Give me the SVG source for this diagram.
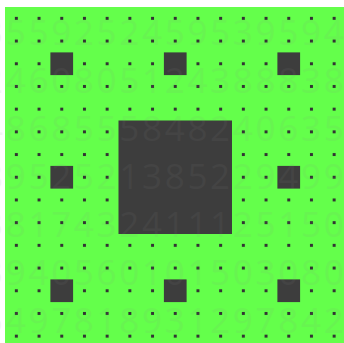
<svg xmlns="http://www.w3.org/2000/svg" width="344" height="343" viewBox="0 0 344 343">
<defs>
<pattern id="dots" x="5" y="7" width="22.7" height="22.7" patternUnits="userSpaceOnUse">
<rect x="9.85" y="9.85" width="3" height="3" fill="#333333"/>
</pattern>
<style>
.hole{fill:#3d3d3d}
.digits{font-family:"Open Sans","DejaVu Sans",sans-serif;font-size:35px;letter-spacing:2.7px;fill:#8a8a8a;opacity:0.09}
</style>
</defs>
<rect width="344" height="343" fill="#ffffff"/>
<g id="carpet">
<rect x="5" y="7" width="340.5" height="340.5" fill="#64ff4b"/>
<rect x="5" y="7" width="340.5" height="340.5" fill="url(#dots)"/>
<rect class="hole" x="118.5" y="120.5" width="113.5" height="113.5"/>
<rect class="hole" x="50.4" y="52.4" width="22.7" height="22.7"/>
<rect class="hole" x="163.9" y="52.4" width="22.7" height="22.7"/>
<rect class="hole" x="277.4" y="52.4" width="22.7" height="22.7"/>
<rect class="hole" x="50.4" y="165.9" width="22.7" height="22.7"/>
<rect class="hole" x="277.4" y="165.9" width="22.7" height="22.7"/>
<rect class="hole" x="50.4" y="279.4" width="22.7" height="22.7"/>
<rect class="hole" x="163.9" y="279.4" width="22.7" height="22.7"/>
<rect class="hole" x="277.4" y="279.4" width="22.7" height="22.7"/>
</g>
<g id="digits" class="digits">
<text x="-17" y="45">3559252459539594</text>
<text x="-17" y="93">2460805124388838</text>
<text x="-17" y="141">4868555848240635</text>
<text x="-17" y="189">8952521385229499</text>
<text x="-17" y="237">3817432411125150</text>
<text x="-17" y="285">3940560101503080</text>
<text x="-17" y="333">5497818931297842</text>
</g>
</svg>
